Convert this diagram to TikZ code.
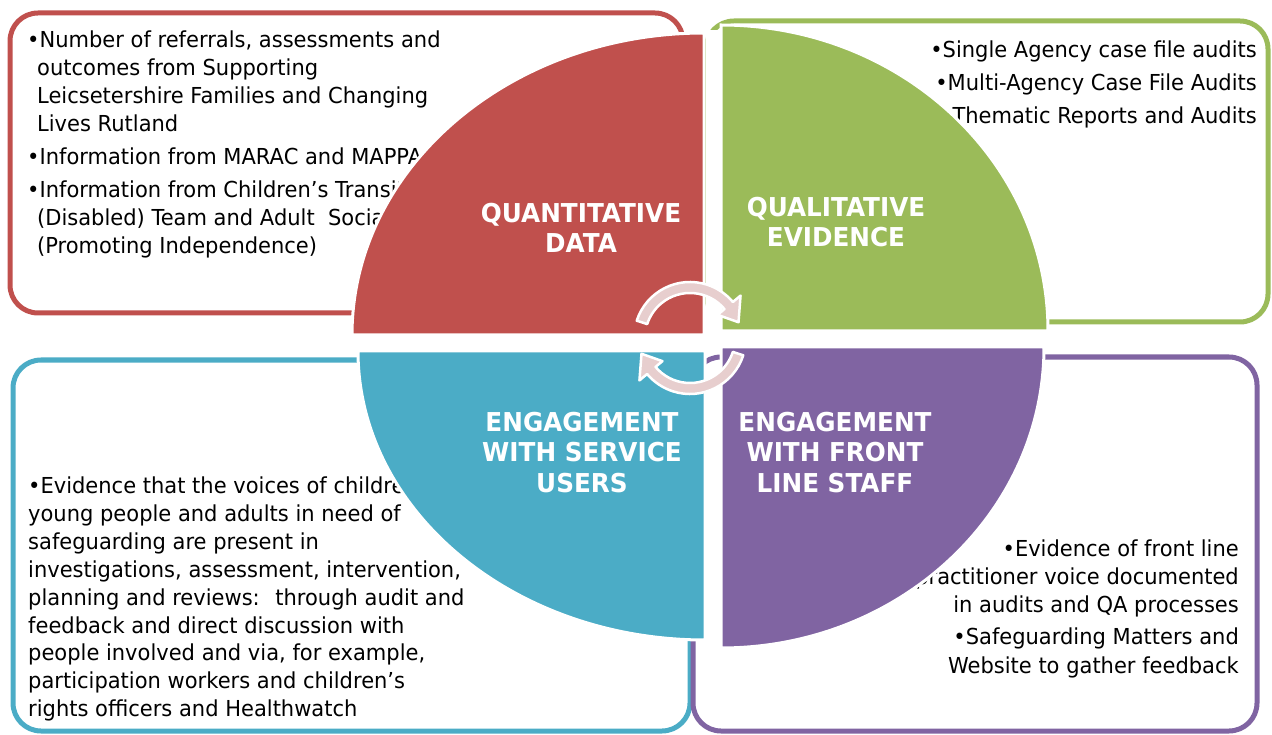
\documentclass[tikz,border=0pt]{standalone}
\usepackage{fontspec}
\setmainfont{DejaVu Sans}[FakeStretch=0.955]
\newfontfamily\lblfont{DejaVu Sans Bold}[FakeStretch=0.95]
\usetikzlibrary{calc}
\definecolor{qred}{RGB}{192,80,77}
\definecolor{qgreen}{RGB}{155,187,89}
\definecolor{qblue}{RGB}{75,172,198}
\definecolor{qpurple}{RGB}{128,100,162}
\definecolor{arrowpink}{RGB}{231,206,206}
\tikzset{
  box/.style={line width=5pt, rounded corners=28pt},
  quad/.style={draw=white, line width=3pt},
  txt/.style={inner sep=0pt, font=\fontsize{22}{26}\selectfont, text=black},
  lbl/.style={inner sep=0pt, font=\lblfont\fontsize{26}{30}\selectfont, text=white},
  band/.style={fill=arrowpink, draw=white, line width=2.5pt, line join=round},
}
\begin{document}
\begin{tikzpicture}[x=1pt,y=-1pt]
\useasboundingbox (0,0) rectangle (1272,735);
% outer boxes
\draw[box, qred] (10,13) rectangle (683,313);
\draw[box, qgreen] (706,21) rectangle (1268,322);
\draw[box, qblue] (13,360) rectangle (690,731);
\draw[box, qpurple] (693,357) rectangle (1257,731);
% red box text
\node[txt, anchor=base west] (r1) at (27,48) {•Number of referrals, assessments and};
\node[txt, anchor=base west] (r2) at (37,76) {outcomes from Supporting};
\node[txt, anchor=base west] (r3) at (37,104) {Leicsetershire Families and Changing};
\node[txt, anchor=base west] (r4) at (37,132) {Lives Rutland};
\node[txt, anchor=base west] (r5) at (27,165) {•Information from MARAC and MAPPA};
\node[txt, anchor=base west] (r6) at (27,198) {•Information from Children's Transitions};
\node[txt, anchor=base west] (r7) at (37,226) {(Disabled) Team and Adult \ Social Care};
\node[txt, anchor=base west] (r8) at (37,254) {(Promoting Independence)};
% green box text
\node[txt, anchor=base east] (g1) at (1257,58) {•Single Agency case file audits};
\node[txt, anchor=base east] (g2) at (1257,91) {•Multi-Agency Case File Audits};
\node[txt, anchor=base east] (g3) at (1257,124) {•Thematic Reports and Audits};
% blue box text
\node[txt, anchor=base west] (b1) at (28,493) {•Evidence that the voices of children,};
\node[txt, anchor=base west] (b2) at (28,521) {young people and adults in need of};
\node[txt, anchor=base west] (b3) at (28,549) {safeguarding are present in};
\node[txt, anchor=base west] (b4) at (28,577) {investigations, assessment, intervention,};
\node[txt, anchor=base west] (b5) at (28,605) {planning and reviews: \ through audit and};
\node[txt, anchor=base west] (b6) at (28,633) {feedback and direct discussion with};
\node[txt, anchor=base west] (b7) at (28,660) {people involved and via, for example,};
\node[txt, anchor=base west] (b8) at (28,688) {participation workers and children's};
\node[txt, anchor=base west] (b9) at (28,716) {rights officers and Healthwatch};
% purple box text
\node[txt, anchor=base east] (p1) at (1239,556) {•Evidence of front line};
\node[txt, anchor=base east] (p2) at (1239,584) {practitioner voice documented};
\node[txt, anchor=base east] (p3) at (1239,612) {in audits and QA processes};
\node[txt, anchor=base east] (p4) at (1239,644) {•Safeguarding Matters and};
\node[txt, anchor=base east] (p5) at (1239,673) {Website to gather feedback};
% quadrants
\filldraw[quad, fill=qred] (704,335) -- (352,335) arc[start angle=180, end angle=270, x radius=352, y radius=302] -- cycle;
\filldraw[quad, fill=qgreen] (721,331) -- (721,25) arc[start angle=270, end angle=360, x radius=327, y radius=306] -- cycle;
\filldraw[quad, fill=qblue] (705,351) -- (358,351) arc[start angle=180, end angle=90, x radius=347, y radius=289] -- cycle;
\filldraw[quad, fill=qpurple] (721,347) -- (1044,347) arc[start angle=0, end angle=90, x radius=323, y radius=301] -- cycle;
% gap
\fill[white] (705.5,30) rectangle (719.5,349);
% quadrant labels
\node[lbl, anchor=base] (qa1) at (581,223) {QUANTITATIVE};
\node[lbl, anchor=base] (qa2) at (581,253) {DATA};
\node[lbl, anchor=base] (ql1) at (836,217) {QUALITATIVE};
\node[lbl, anchor=base] (ql2) at (836,247) {EVIDENCE};
\node[lbl, anchor=base] (su1) at (582,431) {ENGAGEMENT};
\node[lbl, anchor=base] (su2) at (582,461) {WITH SERVICE};
\node[lbl, anchor=base] (su3) at (582,492) {USERS};
\node[lbl, anchor=base] (fs1) at (835,431) {ENGAGEMENT};
\node[lbl, anchor=base] (fs2) at (835,461) {WITH FRONT};
\node[lbl, anchor=base] (fs3) at (835,492) {LINE STAFF};
% circular arrows
\coordinate (ca) at (690,338);
\path[band] ($(ca)+(-162:56)$) arc[start angle=-162, end angle=-40, radius=56]
  -- ($(ca)+(-40:66)$) -- ($(ca)+(-18:51)$) -- ($(ca)+(-40:36)$)
  -- ($(ca)+(-40:45)$) arc[start angle=-40, end angle=-162, radius=45] -- cycle;
\path[band] ($(ca)+(18:56)$) arc[start angle=18, end angle=140, radius=56]
  -- ($(ca)+(140:66)$) -- ($(ca)+(162:51)$) -- ($(ca)+(140:36)$)
  -- ($(ca)+(140:45)$) arc[start angle=140, end angle=18, radius=45] -- cycle;
\end{tikzpicture}
\end{document}
